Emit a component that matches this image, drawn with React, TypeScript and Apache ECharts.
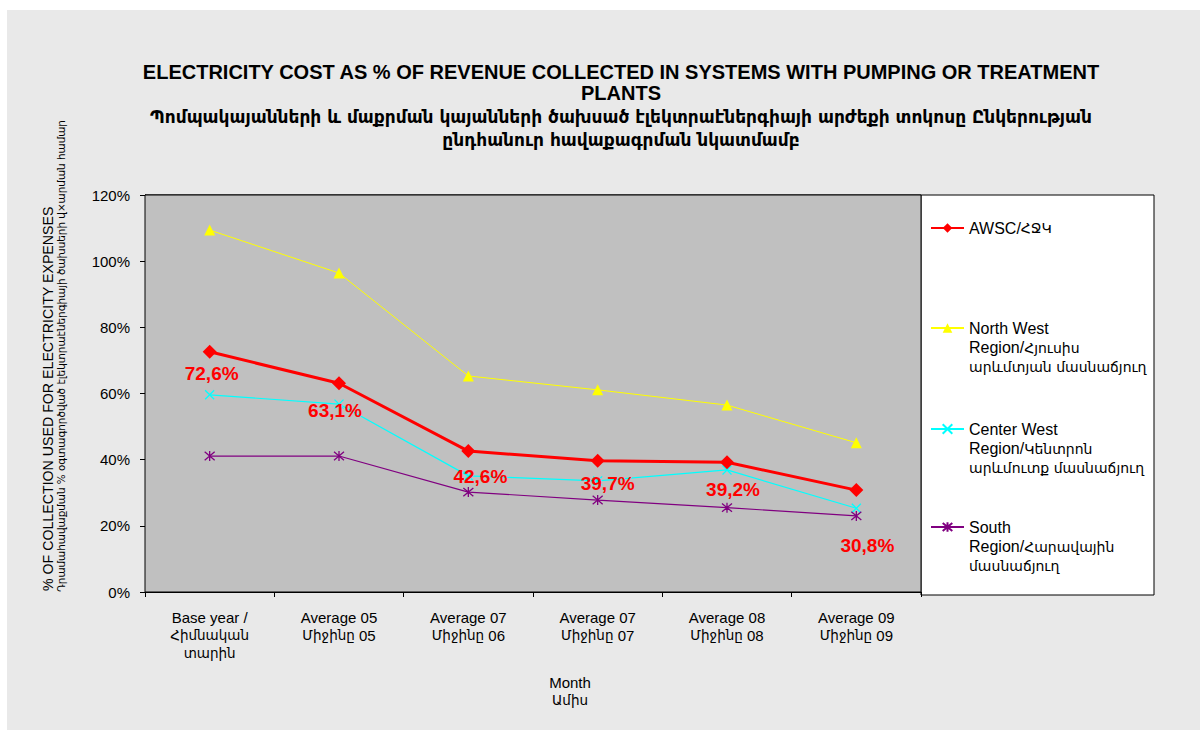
import React, { useEffect, useRef } from "react";
import * as echarts from "echarts";

const FONT = '"Liberation Sans", Arial, sans-serif';
const ARM = '"DejaVu Sans", sans-serif';

const categories = [
  "Base year /\nՀիմնական\nտարին",
  "Average 05\nՄիջինը 05",
  "Average 07\nՄիջինը 06",
  "Average 07\nՄիջինը 07",
  "Average 08\nՄիջինը 08",
  "Average 09\nՄիջինը 09",
];
const awsc = [72.6, 63.1, 42.6, 39.7, 39.2, 30.8];
const northWest = [109.4, 96.4, 65.3, 61.1, 56.5, 45.1];
const centerWest = [59.6, 56.8, 35.1, 33.6, 36.9, 25.3];
const south = [41.1, 41.1, 30.2, 27.8, 25.5, 23.0];

const seriesNames = [
  "AWSC/ՀՋԿ",
  "North West\nRegion/Հյուսիս\nարևմտյան մասնաճյուղ",
  "Center West\nRegion/Կենտրոն\nարևմուտք մասնաճյուղ",
  "South\nRegion/Հարավային\nմասնաճյուղ",
];
const seriesColors = ["#FF0000", "#FFFF00", "#00FFFF", "#800080"];

const yMin = 0;
const yMax = 120;
const yInterval = 20;

// label offsets for AWSC data labels (styling)
const labelOffsets = [
  [2, 22],
  [-4, 27],
  [12, 25],
  [10, 23],
  [6, 27],
  [11, 55],
];

const titleLines = [
  "ELECTRICITY COST AS % OF REVENUE COLLECTED IN SYSTEMS WITH PUMPING OR TREATMENT",
  "PLANTS",
  "Պոմպակայանների և մաքրման կայանների ծախսած էլեկտրաէներգիայի արժեքի տոկոսը Ընկերության",
  "ընդհանուր հավաքագրման նկատմամբ",
];
const yAxisName = [
  "% OF COLLECTION USED FOR ELECTRICITY EXPENSES",
  "Դրամահավաքման % օգտագործված էլեկտրաէներգիայի ծախսերի վ×արման համար",
];
const xAxisName = ["Month", "Ամիս"];

const X_SYMBOL = "path://M0,0L10,10M10,0L0,10";
const STAR_SYMBOL = "path://M5,0L5,10M0.8,0.8L9.2,9.2M9.2,0.8L0.8,9.2";

// convert a string to rich-text markup: Armenian runs -> {a|..}, others -> {e|..}
function toRich(s: string): string {
  return s
    .split("\n")
    .map((line) => {
      const re = /[\u0530-\u058F×]+(?: +[\u0530-\u058F×]+)*/g;
      let out = "";
      let last = 0;
      let m: RegExpExecArray | null;
      while ((m = re.exec(line)) !== null) {
        if (m.index > last) out += `{e|${line.slice(last, m.index)}}`;
        out += `{a|${m[0]}}`;
        last = m.index + m[0].length;
      }
      if (last < line.length) out += `{e|${line.slice(last)}}`;
      if (!out) out = "{e| }";
      return out;
    })
    .join("\n");
}

export default function App() {
  const ref = useRef<HTMLDivElement>(null);
  useEffect(() => {
    if (!ref.current) return;
    const chart = echarts.init(ref.current, null, { renderer: "svg" });
    const legendIconY = [228, 328, 429, 527];
    const lineH = 19.5;
    const legendRich = {
      e: { fontSize: 16, fontFamily: FONT, color: "#000", lineHeight: lineH },
      a: { fontSize: 14, fontFamily: ARM, color: "#000", lineHeight: lineH },
    };
    const legends = seriesNames.map((n, i) => {
      const nLines = n.split("\n").length;
      const total = nLines === 1 ? 1 : nLines * 2 - 1;
      return {
        data: [n],
        orient: "vertical",
        left: 930,
        top: legendIconY[i] - (total * lineH) / 2,
        padding: 0,
        itemGap: 0,
        itemWidth: 33,
        itemHeight: 12,
        selectedMode: false,
        textStyle: { fontSize: 16, lineHeight: lineH, color: "#000", fontFamily: FONT, rich: legendRich },
        formatter: (name: string) => {
          const k = name.split("\n").length;
          const pre = k === 1 ? "" : "{e| }\n".repeat(k - 1);
          return pre + toRich(name);
        },
      };
    });

    const option: any = {
      animation: false,
      backgroundColor: "#ffffff",
      graphic: [
        {
          type: "rect",
          z: -10,
          shape: { x: 7, y: 10, width: 1193, height: 720 },
          style: { fill: "#e9e9e9" },
          silent: true,
        },
        {
          type: "rect",
          z: 0,
          shape: { x: 921, y: 195, width: 233, height: 400 },
          style: { fill: "#ffffff", stroke: "#000", lineWidth: 1 },
          silent: true,
        },
        {
          type: "text",
          x: 621,
          y: 61,
          style: {
            text: titleLines[0] + "\n" + titleLines[1],
            font: `bold 20px ${FONT}`,
            lineHeight: 21,
            align: "center",
            verticalAlign: "top",
            fill: "#000",
          },
        },
        {
          type: "text",
          x: 621,
          y: 105.5,
          style: {
            text: titleLines[2] + "\n" + titleLines[3],
            font: `bold 17px ${ARM}`,
            lineHeight: 23,
            align: "center",
            verticalAlign: "top",
            fill: "#000",
          },
        },
        {
          type: "text",
          x: 48,
          y: 591,
          rotation: Math.PI / 2,
          style: {
            text: yAxisName[0],
            font: `14.2px ${FONT}`,
            align: "left",
            verticalAlign: "middle",
            fill: "#000",
          },
        },
        {
          type: "text",
          x: 61,
          y: 592,
          rotation: Math.PI / 2,
          style: {
            text: yAxisName[1],
            font: `10.4px ${ARM}`,
            align: "left",
            verticalAlign: "middle",
            fill: "#000",
          },
        },
        {
          type: "text",
          x: 570,
          y: 674,
          style: {
            text: toRich(xAxisName.join("\n")),
            align: "center",
            verticalAlign: "top",
            rich: {
              e: { fontSize: 15, fontFamily: FONT, fill: "#000", lineHeight: 17.5 },
              a: { fontSize: 13.5, fontFamily: ARM, fill: "#000", lineHeight: 17.5 },
            },
          },
        },
      ],
      legend: legends,
      grid: {
        left: 145,
        top: 195,
        width: 776,
        height: 397,
        show: true,
        backgroundColor: "#C0C0C0",
        borderColor: "#000",
        borderWidth: 1,
        z: 1,
      },
      xAxis: {
        type: "category",
        data: categories,
        boundaryGap: true,
        axisLine: { lineStyle: { color: "#000", width: 1 } },
        axisTick: { show: true, length: 5, lineStyle: { color: "#000" } },
        axisLabel: {
          color: "#000",
          fontSize: 15,
          fontFamily: FONT,
          lineHeight: 18,
          margin: 16,
          interval: 0,
          verticalAlign: "top",
          formatter: (v: string) => toRich(v),
          rich: {
            e: { fontSize: 15, fontFamily: FONT, color: "#000", lineHeight: 18 },
            a: { fontSize: 13.5, fontFamily: ARM, color: "#000", lineHeight: 18 },
          },
        },
      },
      yAxis: {
        type: "value",
        min: yMin,
        max: yMax,
        interval: yInterval,
        axisLine: { show: true, lineStyle: { color: "#000", width: 1 } },
        axisTick: { show: true, length: 5, lineStyle: { color: "#000" } },
        axisLabel: {
          color: "#000",
          fontSize: 15,
          fontFamily: FONT,
          margin: 15,
          formatter: "{value}%",
        },
        splitLine: { show: true, lineStyle: { color: "#3a3a3a", width: 1.5 } },
      },
      series: [
        {
          name: seriesNames[0],
          type: "line",
          data: awsc.map((v, i) => ({
            value: v,
            label: { offset: labelOffsets[i] },
          })),
          symbol: "diamond",
          symbolSize: 14,
          z: 5,
          lineStyle: { color: seriesColors[0], width: 3 },
          itemStyle: { color: seriesColors[0] },
          label: {
            show: true,
            position: "inside",
            color: "#FF0000",
            fontSize: 19,
            fontWeight: "bold",
            fontFamily: FONT,
            formatter: (p: any) => p.value.toFixed(1).replace(".", ",") + "%",
          },
        },
        {
          name: seriesNames[1],
          type: "line",
          data: northWest,
          symbol: "triangle",
          symbolSize: 11,
          z: 4,
          lineStyle: { color: seriesColors[1], width: 1 },
          itemStyle: { color: seriesColors[1] },
        },
        {
          name: seriesNames[2],
          type: "line",
          data: centerWest,
          symbol: X_SYMBOL,
          symbolSize: 9,
          z: 3,
          lineStyle: { color: seriesColors[2], width: 1.2 },
          itemStyle: { color: "transparent", borderColor: seriesColors[2], borderWidth: 1.3 },
        },
        {
          name: seriesNames[3],
          type: "line",
          data: south,
          symbol: STAR_SYMBOL,
          symbolSize: 10,
          z: 3,
          lineStyle: { color: seriesColors[3], width: 1.2 },
          itemStyle: { color: "transparent", borderColor: seriesColors[3], borderWidth: 1.3 },
        },
      ],
    };
    chart.setOption(option);
    return () => chart.dispose();
  }, []);
  return (
    <div
      ref={ref}
      style={{ position: "fixed", left: 0, top: 0, width: 1204, height: 733 }}
    />
  );
}
